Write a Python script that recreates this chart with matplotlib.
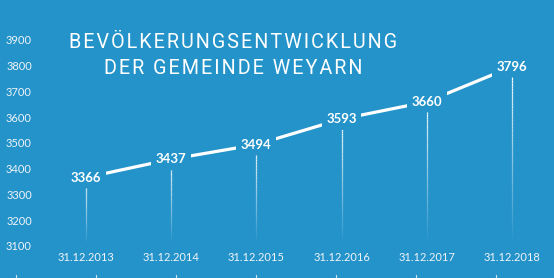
import numpy as np
import matplotlib
matplotlib.use("Agg")
from matplotlib import pyplot as plt
from matplotlib.collections import LineCollection

years = ["31.12.2013", "31.12.2014", "31.12.2015", "31.12.2016", "31.12.2017", "31.12.2018"]
population = [3366, 3437, 3494, 3593, 3660, 3796]
yticks = [3100, 3200, 3300, 3400, 3500, 3600, 3700, 3800, 3900]
title_lines = ["BEVÖLKERUNGSENTWICKLUNG", "DER GEMEINDE WEYARN"]

bg = "#2493ca"
W, H = 554, 278

fig = plt.figure(figsize=(W / 100, H / 100), dpi=100, facecolor=bg)
ax = fig.add_axes([0, 0, 1, 1], facecolor=bg)

# pixel layout of the original: first point at x=86, step 85.2 px; 3100 at y=246, 25.75 px per 100
step = 85.2
ax.set_xlim(-86 / step, (W - 86) / step)
ppu = 0.2575
ax.set_ylim(3100 - (H - 246) / ppu, 3100 + 246 / ppu)

x = np.arange(len(years))
ax.plot(x, population, color="white", lw=2.3, solid_capstyle="butt", zorder=2)

# fading drop lines from each label down to the axis
for xi, v in zip(x, population):
    ys = np.linspace(v - 40, 3110, 60)
    segs = [[(xi, ys[k]), (xi, ys[k + 1])] for k in range(len(ys) - 1)]
    alphas = np.linspace(0.95, 0.0, len(segs))
    cols = [(1, 1, 1, a) for a in alphas]
    ax.add_collection(LineCollection(segs, colors=cols, linewidths=0.9, zorder=1))

for xi, v in zip(x, population):
    ax.text(xi, v, str(v), color="white", fontsize=9.5, fontweight="bold", family="Lato",
            ha="center", va="center", zorder=3,
            bbox=dict(boxstyle="square,pad=0.35", fc=bg, ec="none"))

ax.set_yticks(yticks)
ax.set_yticklabels([str(t) for t in yticks], family="Lato")
ax.set_xticks(x)
ax.set_xticklabels(years, family="Lato")
ax.tick_params(axis="y", length=0, pad=-23, labelsize=8, labelcolor="#f0f4f8")
ax.tick_params(axis="x", length=0, pad=-19, labelsize=8, labelcolor="#f0f4f8")
for s in ax.spines.values():
    s.set_visible(False)

# small marks along the bottom edge
for px in range(16, 554, 80):
    ax.plot([px / W, px / W], [0, 3 / H], color="#c8dcea", lw=0.8, transform=ax.transAxes)

# letter-spaced title
sp = "\u200a"
for line, py in zip(title_lines, [43, 69]):
    ax.text(233 / W, 1 - py / H, sp.join(line), transform=ax.transAxes, color="white",
            fontsize=14.2, ha="center", va="center", family=["Roboto", "DejaVu Sans"])

fig.savefig("out.png", dpi=100, facecolor=bg)
